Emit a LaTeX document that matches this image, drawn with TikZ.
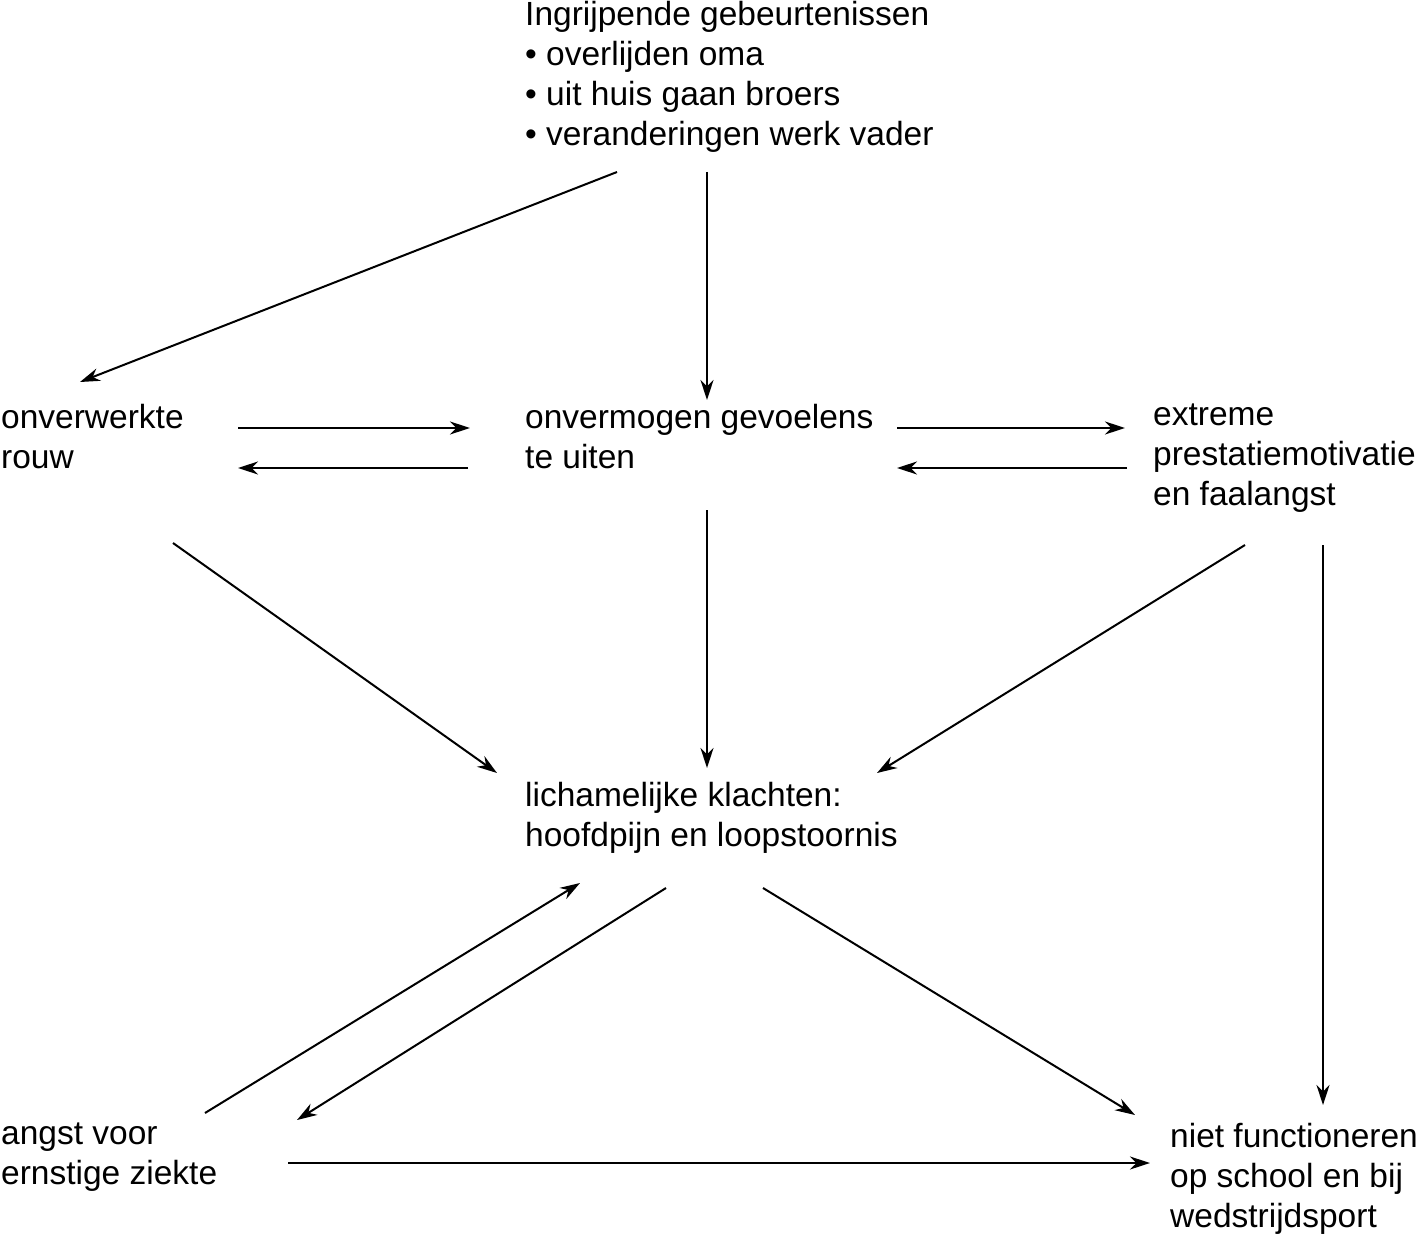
\documentclass[tikz,border=0pt]{standalone}
\usepackage{fontspec}
\setmainfont{Liberation Sans}
\usetikzlibrary{arrows.meta}
\begin{document}
\begin{tikzpicture}[x=1pt,y=-1pt,
  lbl/.style={anchor=north west,align=left,inner sep=0pt,font=\fontsize{33.5}{40}\selectfont},
  arr/.style={-{Stealth[length=20pt,width=13pt]},line width=2pt}]
\useasboundingbox (0,0) rectangle (1421,1246);
\node[lbl] (top) at (525,1) {Ingrijpende gebeurtenissen\\• overlijden oma\\• uit huis gaan broers\\• veranderingen werk vader};
\node[lbl] (rouw) at (1,404) {onverwerkte\\rouw};
\node[lbl] (onv) at (525,404) {onvermogen gevoelens\\te uiten};
\node[lbl] (extr) at (1153,404) {extreme\\prestatiemotivatie\\en faalangst};
\node[lbl] (lich) at (525,782) {lichamelijke klachten:\\hoofdpijn en loopstoornis};
\node[lbl] (angst) at (1,1123) {angst voor\\ernstige ziekte};
\node[lbl] (niet) at (1170,1123) {niet functioneren\\op school en bij\\wedstrijdsport};
\foreach \n/\x/\y in {a1/617/172,a2/80/382,b1/707/172,b2/707/400,
  c1/238/428,c2/470/428,d1/468/468,d2/238/468,
  e1/897/428,e2/1125/428,f1/1127/468,f2/897/468,
  g1/173/543,g2/497/773,h1/707/510,h2/707/768,i1/1245/545,i2/877/773,
  j1/1323/545,j2/1323/1105,k1/205/1113,k2/580/883,l1/666/888,l2/297/1120,
  m1/763/888,m2/1135/1115,n1/288/1163,n2/1150/1163}
  \coordinate (\n) at (\x,\y);
\foreach \s in {a,b,c,d,e,f,g,h,i,j,k,l,m,n} \draw[arr] (\s1) -- (\s2);
\end{tikzpicture}
\end{document}
